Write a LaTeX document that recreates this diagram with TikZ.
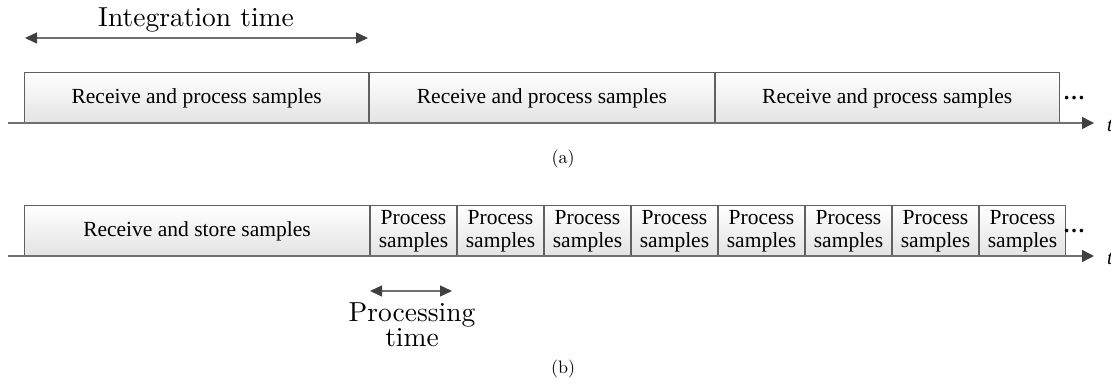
\documentclass[tikz,border=0pt]{standalone}
\usepackage{fontspec}
\usetikzlibrary{arrows.meta}
\newfontfamily\boxfont{Liberation Serif}
\newfontfamily\lblfont{lmroman10-regular.otf}
\definecolor{edgegray}{HTML}{606060}
\definecolor{linegray}{HTML}{707070}
\definecolor{headgray}{HTML}{404040}
\tikzset{
  stagebox/.style={draw=edgegray, line width=1pt, top color=white, bottom color=black!11,
    inner sep=0pt, minimum height=51pt, anchor=north west, align=center,
    font=\boxfont\fontsize{21.5}{22.5}\selectfont},
  timeaxis/.style={draw=linegray, line width=1.4pt, -{Triangle[length=12pt,width=12pt,color=headgray]}},
  span/.style={draw=linegray, line width=1.4pt,
    {Triangle[length=12pt,width=11pt,color=headgray]}-{Triangle[length=12pt,width=11pt,color=headgray]}},
  biglabel/.style={font=\lblfont\fontsize{27.5}{25}\selectfont, inner sep=0pt},
  caplabel/.style={font=\lblfont\fontsize{18}{20}\selectfont, inner sep=0pt},
  dots/.style={font=\boxfont\bfseries\fontsize{22}{22}\selectfont, inner sep=0pt},
  tlabel/.style={font=\boxfont\itshape\fontsize{20}{20}\selectfont, inner sep=0pt, anchor=west}
}
\begin{document}
\begin{tikzpicture}[x=1pt,y=-1pt]
\useasboundingbox (0,0) rectangle (1111,383);

% (a) receive and process in every integration period
\coordinate (ia) at (25,38);
\coordinate (ib) at (368,38);
\draw[span] (ia) -- (ib);
\node[biglabel] (itime) at (196,20) {Integration time};

\node[stagebox, minimum width=344.3pt] (a1) at (24,72) {Receive and process samples};
\node[stagebox, minimum width=344.3pt] (a2) at (a1.north east) {Receive and process samples};
\node[stagebox, minimum width=344.3pt] (a3) at (a2.north east) {Receive and process samples};
\node[dots] (adots) at (1074,98) {\ldots};
\coordinate (axa0) at (8,123);
\coordinate (axa1) at (1094,123);
\draw[timeaxis] (axa0) -- (axa1);
\node[tlabel] (ta) at (1107,126) {t};
\node[caplabel] (capa) at (563,159) {(a)};

% (b) store first, then process in short chunks
\node[stagebox, minimum width=345pt] (b0) at (24,205) {Receive and store samples};
\node[stagebox, minimum width=86pt] (b1) at (b0.north east) {Process\\samples};
\node[stagebox, minimum width=86pt] (b2) at (b1.north east) {Process\\samples};
\node[stagebox, minimum width=86pt] (b3) at (b2.north east) {Process\\samples};
\node[stagebox, minimum width=86pt] (b4) at (b3.north east) {Process\\samples};
\node[stagebox, minimum width=86pt] (b5) at (b4.north east) {Process\\samples};
\node[stagebox, minimum width=86pt] (b6) at (b5.north east) {Process\\samples};
\node[stagebox, minimum width=86pt] (b7) at (b6.north east) {Process\\samples};
\node[stagebox, minimum width=86pt] (b8) at (b7.north east) {Process\\samples};
\node[dots] (bdots) at (1074,231) {\ldots};
\coordinate (axb0) at (8,256);
\coordinate (axb1) at (1094,256);
\draw[timeaxis] (axb0) -- (axb1);
\node[tlabel] (tb) at (1107,259) {t};

\coordinate (pa) at (370,291);
\coordinate (pb) at (452,291);
\draw[span] (pa) -- (pb);
\node[biglabel, align=center] (ptime) at (412,325) {Processing\\time};
\node[caplabel] (capb) at (563,369) {(b)};
\end{tikzpicture}
\end{document}
